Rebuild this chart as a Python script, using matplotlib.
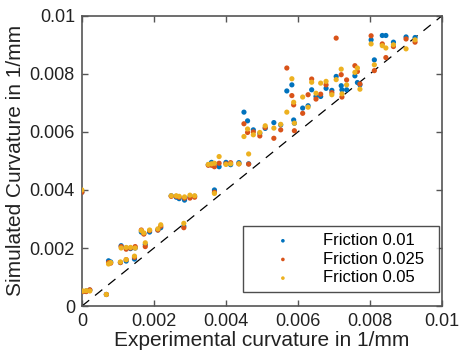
import matplotlib
matplotlib.use("Agg")
import matplotlib.pyplot as plt

plt.rcParams['font.family'] = ['Liberation Sans', 'DejaVu Sans']

x_exp = [0.00000, 0.00003, 0.00012, 0.00022, 0.00068, 0.00074, 0.00080, 0.00107, 0.00123, 0.00146,
         0.00109, 0.00123, 0.00135, 0.00148, 0.00176, 0.00165, 0.00172, 0.00188, 0.00211, 0.00219,
         0.00283, 0.00248, 0.00262, 0.00270, 0.00285, 0.00300, 0.00313, 0.00368, 0.00351, 0.00360,
         0.00368, 0.00381, 0.00400, 0.00413, 0.00436, 0.00463, 0.00450, 0.00460, 0.00476, 0.00494,
         0.00509, 0.00533, 0.00552, 0.00569, 0.00583, 0.00588, 0.00590, 0.00613, 0.00628, 0.00638,
         0.00650, 0.00663, 0.00678, 0.00694, 0.00706, 0.00720, 0.00722, 0.00735, 0.00758, 0.00765,
         0.00772, 0.00803, 0.00812, 0.00834, 0.00844, 0.00865, 0.00900, 0.00925]

sim_f001 = [0.00392, 0.00050, 0.00052, 0.00055, 0.00040, 0.00156, 0.00152, 0.00150, 0.00155, 0.00162,
            0.00208, 0.00200, 0.00198, 0.00200, 0.00212, 0.00255, 0.00250, 0.00255, 0.00262, 0.00270,
            0.00275, 0.00380, 0.00375, 0.00370, 0.00365, 0.00375, 0.00378, 0.00400, 0.00487, 0.00495,
            0.00490, 0.00480, 0.00495, 0.00487, 0.00494, 0.00490, 0.00668, 0.00638, 0.00607, 0.00595,
            0.00612, 0.00632, 0.00624, 0.00741, 0.00762, 0.00641, 0.00630, 0.00682, 0.00690, 0.00745,
            0.00722, 0.00722, 0.00750, 0.00743, 0.00791, 0.00759, 0.00745, 0.00745, 0.00793, 0.00770,
            0.00762, 0.00917, 0.00848, 0.00932, 0.00932, 0.00909, 0.00927, 0.00925]

sim_f0025 = [0.00392, 0.00050, 0.00050, 0.00056, 0.00040, 0.00150, 0.00148, 0.00150, 0.00160, 0.00168,
             0.00205, 0.00196, 0.00200, 0.00205, 0.00205, 0.00262, 0.00248, 0.00260, 0.00262, 0.00275,
             0.00270, 0.00378, 0.00378, 0.00375, 0.00372, 0.00372, 0.00375, 0.00392, 0.00485, 0.00485,
             0.00480, 0.00492, 0.00490, 0.00494, 0.00490, 0.00489, 0.00628, 0.00598, 0.00600, 0.00586,
             0.00615, 0.00578, 0.00607, 0.00820, 0.00725, 0.00693, 0.00604, 0.00664, 0.00728, 0.00782,
             0.00713, 0.00730, 0.00762, 0.00735, 0.00923, 0.00797, 0.00720, 0.00779, 0.00828, 0.00808,
             0.00765, 0.00931, 0.00811, 0.00903, 0.00856, 0.00894, 0.00920, 0.00909]

sim_f005 = [0.00400, 0.00052, 0.00053, 0.00052, 0.00040, 0.00145, 0.00150, 0.00152, 0.00160, 0.00172,
            0.00200, 0.00202, 0.00202, 0.00200, 0.00218, 0.00260, 0.00252, 0.00262, 0.00266, 0.00280,
            0.00285, 0.00380, 0.00380, 0.00378, 0.00376, 0.00382, 0.00380, 0.00388, 0.00488, 0.00490,
            0.00492, 0.00515, 0.00488, 0.00490, 0.00490, 0.00524, 0.00584, 0.00610, 0.00590, 0.00598,
            0.00621, 0.00613, 0.00626, 0.00668, 0.00783, 0.00702, 0.00630, 0.00720, 0.00685, 0.00771,
            0.00733, 0.00768, 0.00774, 0.00728, 0.00780, 0.00816, 0.00731, 0.00762, 0.00805, 0.00820,
            0.00747, 0.00903, 0.00831, 0.00897, 0.00889, 0.00900, 0.00886, 0.00917]

labels = ['Friction 0.01', 'Friction 0.025', 'Friction 0.05']
colors = ['#0072BD', '#D95319', '#EDB120']
ticks = [0, 0.002, 0.004, 0.006, 0.008, 0.01]
tick_labels = ['0', '0.002', '0.004', '0.006', '0.008', '0.01']

fig = plt.figure(figsize=(4.6, 3.58), dpi=100)
ax = fig.add_axes([0.178, 0.145, 0.783, 0.811])

for ys, lab, c in zip([sim_f001, sim_f0025, sim_f005], labels, colors):
    ax.scatter(x_exp, ys, s=14, color=c, edgecolors='none', label=lab, zorder=3)

ax.plot([0, 0.01], [0, 0.01], linestyle=(0, (7.5, 6)), color='black', linewidth=0.9, zorder=2)

ax.set_xlim(0, 0.01)
ax.set_ylim(0, 0.01)
ax.set_xticks(ticks)
ax.set_xticklabels(tick_labels)
ax.set_yticks(ticks)
ax.set_yticklabels(tick_labels)
ax.tick_params(direction='in', top=True, right=True, length=4, width=1, colors='#555555',
               labelcolor='#222222', labelsize=13, pad=5)
for sp in ax.spines.values():
    sp.set_color('#555555')
    sp.set_linewidth(1.2)

ax.set_xlabel('Experimental curvature in 1/mm', fontsize=15, color='#222222', labelpad=1)
ax.set_ylabel('Simulated Curvature in 1/mm', fontsize=15, color='#222222', labelpad=3)

leg = ax.legend(loc='lower left', fontsize=12, frameon=True, fancybox=False,
                edgecolor='#222222', handletextpad=0.4, borderpad=0.4, labelspacing=0.22,
                markerscale=0.7, handlelength=4.0, mode='expand', borderaxespad=0,
                bbox_to_anchor=(0.447, 0.048, 0.545, 0.224))
leg.get_frame().set_linewidth(1.0)

fig.savefig('out.png', dpi=100)
